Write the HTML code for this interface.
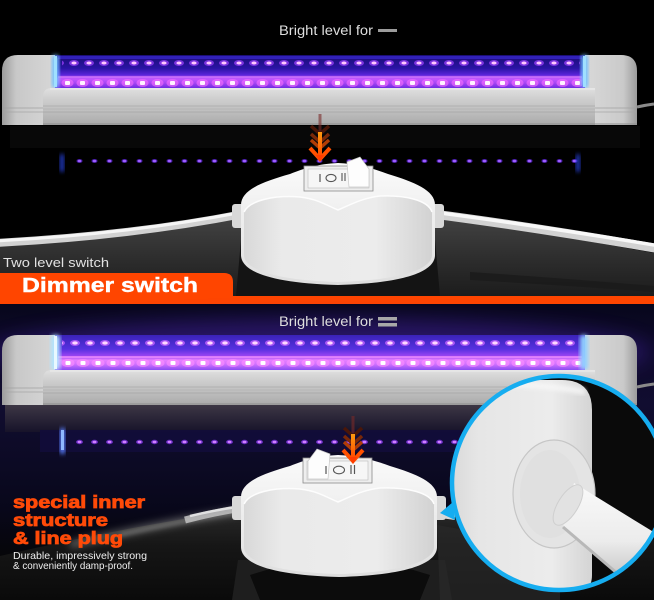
<!DOCTYPE html>
<html>
<head>
<meta charset="utf-8">
<style>
html,body{margin:0;padding:0;background:#000;width:654px;height:600px;overflow:hidden}
svg{display:block}
text{font-family:"Liberation Sans",Arial,sans-serif}
</style>
</head>
<body>
<svg width="654" height="600" viewBox="0 0 654 600" xmlns="http://www.w3.org/2000/svg">
<defs>
  <linearGradient id="capL" x1="0" y1="0" x2="1" y2="0">
    <stop offset="0" stop-color="#9c9c9c"/><stop offset="0.25" stop-color="#c8c8c8"/><stop offset="1" stop-color="#d8d8d8"/>
  </linearGradient>
  <linearGradient id="capR" x1="0" y1="0" x2="1" y2="0">
    <stop offset="0" stop-color="#dadada"/><stop offset="0.75" stop-color="#cacaca"/><stop offset="1" stop-color="#9c9c9c"/>
  </linearGradient>
  <linearGradient id="alum" x1="0" y1="0" x2="0" y2="1">
    <stop offset="0" stop-color="#e0e0e0"/><stop offset="0.3" stop-color="#cecece"/><stop offset="0.6" stop-color="#c0c0c0"/><stop offset="1" stop-color="#aaaaaa"/>
  </linearGradient>
  <linearGradient id="tubeT" x1="0" y1="0" x2="0" y2="1">
    <stop offset="0" stop-color="#1a0d74"/><stop offset="0.4" stop-color="#2a13a4"/><stop offset="0.6" stop-color="#5a24d8"/>
    <stop offset="0.72" stop-color="#c458ff"/><stop offset="0.84" stop-color="#a846f4"/><stop offset="1" stop-color="#6e2ce0"/>
  </linearGradient>
  <linearGradient id="tubeB" x1="0" y1="0" x2="0" y2="1">
    <stop offset="0" stop-color="#3a22b8"/><stop offset="0.4" stop-color="#5630e0"/><stop offset="0.6" stop-color="#9a44f2"/>
    <stop offset="0.72" stop-color="#e680ff"/><stop offset="0.84" stop-color="#d070ff"/><stop offset="1" stop-color="#8a4cf0"/>
  </linearGradient>
  <linearGradient id="swG" x1="0" y1="0" x2="0" y2="1">
    <stop offset="0" stop-color="#fbfbfb"/><stop offset="1" stop-color="#dedede"/>
  </linearGradient>
  <linearGradient id="faceG" x1="0" y1="0" x2="1" y2="0">
    <stop offset="0" stop-color="#d8d8d8"/><stop offset="0.2" stop-color="#eaeaea"/><stop offset="0.7" stop-color="#ececec"/><stop offset="1" stop-color="#d2d2d2"/>
  </linearGradient>
  <linearGradient id="surfT" x1="0" y1="0" x2="0" y2="1">
    <stop offset="0" stop-color="#424242"/><stop offset="0.5" stop-color="#2e2e2e"/><stop offset="1" stop-color="#1c1c1c"/>
  </linearGradient>
  <linearGradient id="surfB" x1="0" y1="0" x2="0" y2="1">
    <stop offset="0" stop-color="#2a2a2a"/><stop offset="0.4" stop-color="#161616"/><stop offset="1" stop-color="#0a0a0a"/>
  </linearGradient>
  <linearGradient id="bgB" x1="0" y1="0" x2="0" y2="1">
    <stop offset="0" stop-color="#07061a"/><stop offset="0.15" stop-color="#0d0a2a"/><stop offset="0.35" stop-color="#110d30"/>
    <stop offset="0.55" stop-color="#0c0a24"/><stop offset="0.7" stop-color="#08071a"/><stop offset="0.85" stop-color="#060609"/><stop offset="1" stop-color="#050505"/>
  </linearGradient>
  <linearGradient id="reflB" x1="0" y1="0" x2="0" y2="1">
    <stop offset="0" stop-color="#3e3846"/><stop offset="1" stop-color="#17132a"/>
  </linearGradient>
  <linearGradient id="arrG" x1="0" y1="0" x2="0" y2="1">
    <stop offset="0" stop-color="#ff9a10"/><stop offset="1" stop-color="#ff4a00"/>
  </linearGradient>
  <linearGradient id="bodyZ" x1="0" y1="0" x2="1" y2="0">
    <stop offset="0" stop-color="#cfcfcf"/><stop offset="0.3" stop-color="#e6e6e6"/><stop offset="0.75" stop-color="#ececec"/><stop offset="1" stop-color="#d4d4d4"/>
  </linearGradient>
  <linearGradient id="cabZ" x1="0" y1="0" x2="0" y2="1">
    <stop offset="0" stop-color="#fafafa"/><stop offset="0.6" stop-color="#ececec"/><stop offset="1" stop-color="#c4c4c4"/>
  </linearGradient>
  <filter id="b2" x="-20%" y="-50%" width="140%" height="200%"><feGaussianBlur stdDeviation="2"/></filter>
  <filter id="b4" x="-20%" y="-100%" width="140%" height="300%"><feGaussianBlur stdDeviation="4"/></filter>
  <filter id="b5" x="-20%" y="-50%" width="140%" height="200%"><feGaussianBlur stdDeviation="5"/></filter>
  <filter id="b10" x="-20%" y="-100%" width="140%" height="300%"><feGaussianBlur stdDeviation="10"/></filter>

  <pattern id="pTt" x="66.5" y="57" width="15" height="12" patternUnits="userSpaceOnUse">
    <ellipse cx="7.5" cy="6" rx="5" ry="3" fill="#a040ff" opacity="0.7"/>
    <ellipse cx="7.5" cy="6" rx="2.6" ry="1.5" fill="#ffc8ff"/>
  </pattern>
  <pattern id="pTb" x="60" y="78" width="15" height="10" patternUnits="userSpaceOnUse">
    <ellipse cx="7.5" cy="5" rx="6" ry="4" fill="#ff70ff" opacity="0.55"/>
    <rect x="5" y="3" width="5" height="4" rx="1" fill="#fff2ff"/>
  </pattern>
  <pattern id="pBt" x="67.5" y="337" width="15" height="12" patternUnits="userSpaceOnUse">
    <ellipse cx="7.5" cy="6" rx="5" ry="3" fill="#c060ff" opacity="0.8"/>
    <ellipse cx="7.5" cy="6" rx="2.8" ry="1.6" fill="#ffd8ff"/>
  </pattern>
  <pattern id="pBb" x="60.5" y="358" width="15" height="10" patternUnits="userSpaceOnUse">
    <ellipse cx="7.5" cy="5" rx="6.5" ry="4" fill="#ff90ff" opacity="0.6"/>
    <rect x="5" y="3" width="5" height="4" rx="1" fill="#ffffff"/>
  </pattern>
  <pattern id="pR" x="72" y="156" width="15" height="10" patternUnits="userSpaceOnUse">
    <ellipse cx="7.5" cy="5" rx="3" ry="2" fill="#5a24d0" opacity="0.8"/>
    <ellipse cx="7.5" cy="5" rx="1.8" ry="1.1" fill="#a060ff"/>
  </pattern>
  <pattern id="pR2" x="72" y="437" width="15" height="10" patternUnits="userSpaceOnUse">
    <ellipse cx="7.5" cy="5" rx="3.5" ry="2.2" fill="#7a30e0" opacity="0.8"/>
    <ellipse cx="7.5" cy="5" rx="2" ry="1.2" fill="#d080ff"/>
  </pattern>
  <clipPath id="cz"><circle cx="559" cy="483" r="107"/></clipPath>
</defs>

<!-- ================= TOP SECTION ================= -->
<rect x="0" y="0" width="654" height="300" fill="#000"/>
<path d="M0,246 Q130,239 241,218 L241,296 L0,296 Z" fill="url(#surfT)"/>
<path d="M435,218 Q540,232 654,253 L654,296 L435,296 Z" fill="url(#surfT)"/>
<path d="M241,240 L435,240 L440,296 L236,296 Z" fill="#141414"/>
<path d="M470,272 Q560,278 654,286 L654,292 Q560,285 470,280 Z" fill="#1a1a1a" opacity="0.8"/>

<rect x="10" y="126" width="630" height="22" fill="#080808"/>
<rect x="68" y="156" width="512" height="10" fill="url(#pR)"/>
<rect x="60" y="154" width="4" height="18" rx="2" fill="#2c4cff" opacity="0.8" filter="url(#b2)"/>
<rect x="576" y="154" width="4" height="18" rx="2" fill="#2c4cff" opacity="0.8" filter="url(#b2)"/>

<!-- top lamp -->
<path d="M2,125 V71 Q2,55 18,55 H58 V125 Z" fill="url(#capL)"/>
<line x1="3" y1="108" x2="45" y2="108" stroke="#a0a0a0" stroke-width="0.8"/>
<line x1="3" y1="112" x2="45" y2="112" stroke="#a6a6a6" stroke-width="0.8"/>
<path d="M582,55 H621 Q637,55 637,71 V125 H582 Z" fill="url(#capR)"/>
<line x1="595" y1="108" x2="636" y2="108" stroke="#a0a0a0" stroke-width="0.8"/>
<line x1="595" y1="112" x2="636" y2="112" stroke="#a6a6a6" stroke-width="0.8"/>
<rect x="55" y="55" width="530" height="33" fill="url(#tubeT)"/>
<rect x="58" y="56" width="524" height="3" fill="#3a2ad0" opacity="0.7"/>
<rect x="62" y="57" width="518" height="12" fill="url(#pTt)"/>
<rect x="58" y="76" width="524" height="2" fill="#e888ff" opacity="0.55"/>
<rect x="60" y="78" width="522" height="10" fill="url(#pTb)"/>
<rect x="52" y="55" width="7" height="33" rx="3" fill="#70c0ff" filter="url(#b2)"/>
<rect x="54" y="56" width="3" height="31" fill="#a0e0ff"/>
<rect x="581" y="55" width="7" height="33" rx="3" fill="#70c0ff" filter="url(#b2)"/>
<rect x="583" y="56" width="3" height="31" fill="#a0e0ff"/>
<path d="M43,125 V97 Q43,88 52,88 H595 V125 Z" fill="url(#alum)"/>
<line x1="50" y1="89" x2="595" y2="89" stroke="#eaeaea" stroke-width="1.2"/>
<line x1="43" y1="106" x2="595" y2="106" stroke="#a8a8a8" stroke-width="0.8"/>
<line x1="43" y1="109" x2="595" y2="109" stroke="#b2b2b2" stroke-width="0.8"/>
<line x1="43" y1="112" x2="595" y2="112" stroke="#a4a4a4" stroke-width="0.8"/>
<line x1="43" y1="124" x2="637" y2="124" stroke="#8e8e8e" stroke-width="1"/>
<path d="M637,107 Q646,105 654,104" stroke="#8a8a8a" stroke-width="3" fill="none"/>

<!-- top cables -->
<path d="M-5,243 Q130,236 243,214" stroke="#d2d2d2" stroke-width="8" fill="none"/>
<path d="M-5,241 Q130,234 243,212" stroke="#f6f6f6" stroke-width="3" fill="none"/>
<path d="M433,214 Q540,228 660,249" stroke="#d2d2d2" stroke-width="9" fill="none"/>
<path d="M433,212 Q540,226 660,246" stroke="#f8f8f8" stroke-width="3.5" fill="none"/>

<!-- top switch -->
<g>
  <rect x="232" y="204" width="12" height="24" rx="3" fill="#d8d8d8"/>
  <rect x="432" y="204" width="12" height="24" rx="3" fill="#d8d8d8"/>
  <path d="M241,205 C241,190 262,182 290,174 C305,168 318,164 338,163 C358,164 372,168 388,174 C414,182 435,190 435,205 L435,255 C435,270 410,283 338,285 C266,283 241,270 241,255 Z" fill="url(#swG)"/>
  <path d="M244,212 C250,200 275,195 300,197 C318,199 328,206 338,210 C350,205 362,198 380,196 C405,195 428,200 432,212 L432,255 C432,268 405,280 338,282 C270,280 244,268 244,255 Z" fill="url(#faceG)"/>
  <path d="M244,212 C250,200 275,195 300,197 C318,199 328,206 338,210 C350,205 362,198 380,196 C405,195 428,200 432,212" stroke="#fdfdfd" stroke-width="1.5" fill="none"/>
  <rect x="304" y="166" width="69" height="25" fill="#eeeeee" stroke="#8a8a8a" stroke-width="0.8"/>
  <rect x="308" y="169" width="61" height="19" fill="#f6f6f6" stroke="#bdbdbd" stroke-width="0.6"/>
  <path d="M347,162 L360,157 L369,169 L369,187 L349,187 Z" fill="#fdfdfd" stroke="#c8c8c8" stroke-width="0.7"/>
  <line x1="320" y1="174" x2="320" y2="182" stroke="#555" stroke-width="1.2"/>
  <ellipse cx="331" cy="178" rx="5" ry="3.6" fill="none" stroke="#555" stroke-width="1.1"/>
  <line x1="342" y1="173" x2="342" y2="181" stroke="#555" stroke-width="1.1"/>
  <line x1="345" y1="173" x2="345" y2="181" stroke="#555" stroke-width="1.1"/>
</g>

<!-- top arrow -->
<g transform="translate(320,0)">
  <rect x="-1.5" y="114" width="3" height="18" fill="#7a2a28" opacity="0.6"/>
  <path d="M-9,126 L0,134 L9,126" stroke="#4a1608" stroke-width="3.5" fill="none"/>
  <path d="M-9,134 L0,142 L9,134" stroke="#7a2808" stroke-width="3.5" fill="none"/>
  <path d="M-9,140 L0,148 L9,140" stroke="#b03c06" stroke-width="3.5" fill="none"/>
  <rect x="-2" y="132" width="4" height="24" fill="url(#arrG)"/>
  <path d="M-10,148 L0,159 L10,148" stroke="#ff5000" stroke-width="4" fill="none"/>
  <path d="M-4,155 L0,162 L4,155 Z" fill="#ff3c00"/>
</g>

<!-- top texts -->
<text x="279" y="35" font-size="13.5" fill="#dedede" textLength="94" lengthAdjust="spacingAndGlyphs">Bright level for</text>
<rect x="378" y="29" width="19" height="3" fill="#9c9c9c"/>
<text x="3" y="267" font-size="13" fill="#e2e2e2" textLength="106" lengthAdjust="spacingAndGlyphs">Two level switch</text>
<path d="M0,273 H224 Q233,273 233,282 V300 H0 Z" fill="#ff4500"/>
<rect x="0" y="296" width="654" height="4" fill="#ff4500"/>
<text x="22" y="292" font-size="20" font-weight="bold" fill="#ffffff" stroke="#ffffff" stroke-width="0.4" textLength="176" lengthAdjust="spacingAndGlyphs">Dimmer switch</text>

<!-- ================= BOTTOM SECTION ================= -->
<rect x="0" y="300" width="654" height="300" fill="url(#bgB)"/>
<rect x="0" y="300" width="654" height="4" fill="#ff4500"/>
<ellipse cx="320" cy="352" rx="330" ry="34" fill="#5a2ad0" opacity="0.35" filter="url(#b10)"/>

<!-- lamp reflection -->
<rect x="5" y="404" width="632" height="28" fill="url(#reflB)"/>
<rect x="40" y="430" width="560" height="22" fill="#120c3a" opacity="0.9"/>
<rect x="68" y="437" width="512" height="10" fill="url(#pR2)"/>
<rect x="60" y="428" width="5" height="26" rx="2" fill="#5a80ff" filter="url(#b2)"/>
<rect x="61" y="430" width="3" height="20" fill="#90b8ff"/>

<!-- bottom lamp -->
<path d="M2,405 V351 Q2,335 18,335 H58 V405 Z" fill="url(#capL)"/>
<line x1="3" y1="388" x2="45" y2="388" stroke="#a0a0a0" stroke-width="0.8"/>
<line x1="3" y1="392" x2="45" y2="392" stroke="#a6a6a6" stroke-width="0.8"/>
<path d="M582,335 H621 Q637,335 637,351 V405 H582 Z" fill="url(#capR)"/>
<rect x="55" y="335" width="530" height="35" fill="url(#tubeB)"/>
<rect x="62" y="337" width="518" height="12" fill="url(#pBt)"/>
<rect x="58" y="356" width="524" height="2" fill="#ff9cff" opacity="0.6"/>
<rect x="60" y="358" width="522" height="10" fill="url(#pBb)"/>
<rect x="51" y="335" width="9" height="35" rx="3" fill="#b0e4ff" filter="url(#b2)"/>
<rect x="54" y="336" width="3" height="33" fill="#e8f8ff"/>
<rect x="580" y="335" width="8" height="35" rx="3" fill="#90d0ff" filter="url(#b2)"/>
<path d="M43,405 V379 Q43,370 52,370 H595 V405 Z" fill="url(#alum)"/>
<line x1="50" y1="371" x2="595" y2="371" stroke="#eaeaea" stroke-width="1.2"/>
<line x1="43" y1="387" x2="595" y2="387" stroke="#a8a8a8" stroke-width="0.8"/>
<line x1="43" y1="390" x2="595" y2="390" stroke="#b2b2b2" stroke-width="0.8"/>
<line x1="43" y1="393" x2="595" y2="393" stroke="#a4a4a4" stroke-width="0.8"/>
<line x1="43" y1="404" x2="637" y2="404" stroke="#8e8e8e" stroke-width="1"/>
<path d="M637,387 Q646,385 654,384" stroke="#8a8a8a" stroke-width="3" fill="none"/>

<!-- lower surface -->
<path d="M0,556 Q120,528 240,510 H440 Q550,515 654,540 V600 H0 Z" fill="url(#surfB)"/>
<path d="M70,545 Q160,523 240,511" stroke="#8a8a8a" stroke-width="7" fill="none" opacity="0.6" filter="url(#b4)"/>
<path d="M120,535 Q180,521 240,512" stroke="#bdbdbd" stroke-width="2" fill="none" opacity="0.5" filter="url(#b2)"/>
<path d="M238,560 L445,560 L452,600 L232,600 Z" fill="#1e1e1e"/>
<path d="M250,575 L300,560 L380,560 L430,575 L420,600 L260,600 Z" fill="#0c0c0c"/>
<path d="M437,525 Q500,535 560,560 L560,600 L440,600 Z" fill="#2a2a2a" opacity="0.7"/>

<!-- bottom cables -->
<path d="M243,508 Q215,512 185,520" stroke="#bdbdbd" stroke-width="7" fill="none" opacity="0.9"/>
<path d="M243,506 Q215,510 190,516" stroke="#eeeeee" stroke-width="2.5" fill="none" opacity="0.8"/>
<path d="M435,513 L455,516" stroke="#d8d8d8" stroke-width="8" fill="none"/>

<!-- bottom switch -->
<g transform="translate(0,292)">
  <rect x="232" y="204" width="12" height="24" rx="3" fill="#d8d8d8"/>
  <rect x="434" y="204" width="12" height="24" rx="3" fill="#d8d8d8"/>
  <path d="M241,205 C241,190 262,182 290,174 C305,168 318,164 338,163 C358,164 374,168 390,174 C416,182 437,190 437,205 L437,255 C437,270 412,283 339,285 C266,283 241,270 241,255 Z" fill="url(#swG)"/>
  <path d="M244,212 C250,200 275,195 300,197 C318,199 328,206 338,210 C350,205 362,198 380,196 C405,195 430,200 434,212 L434,255 C434,268 407,280 339,282 C270,280 244,268 244,255 Z" fill="url(#faceG)"/>
  <path d="M244,212 C250,200 275,195 300,197 C318,199 328,206 338,210 C350,205 362,198 380,196 C405,195 430,200 434,212" stroke="#fdfdfd" stroke-width="1.5" fill="none"/>
  <rect x="303" y="166" width="69" height="25" fill="#eeeeee" stroke="#8a8a8a" stroke-width="0.8"/>
  <rect x="307" y="169" width="61" height="19" fill="#f6f6f6" stroke="#bdbdbd" stroke-width="0.6"/>
  <path d="M330,162 L317,157 L308,169 L308,187 L328,187 Z" fill="#fdfdfd" stroke="#c8c8c8" stroke-width="0.7"/>
  <line x1="326" y1="174" x2="326" y2="182" stroke="#555" stroke-width="1.2"/>
  <ellipse cx="339" cy="178" rx="5.5" ry="3.8" fill="none" stroke="#555" stroke-width="1.1"/>
  <line x1="351" y1="173" x2="351" y2="182" stroke="#555" stroke-width="1.2"/>
  <line x1="354.5" y1="173" x2="354.5" y2="182" stroke="#555" stroke-width="1.2"/>
</g>

<!-- bottom arrow -->
<g transform="translate(353,302)">
  <rect x="-1.5" y="114" width="3" height="18" fill="#7a2a28" opacity="0.6"/>
  <path d="M-9,126 L0,134 L9,126" stroke="#4a1608" stroke-width="3.5" fill="none"/>
  <path d="M-9,134 L0,142 L9,134" stroke="#7a2808" stroke-width="3.5" fill="none"/>
  <path d="M-9,140 L0,148 L9,140" stroke="#b03c06" stroke-width="3.5" fill="none"/>
  <rect x="-2" y="132" width="4" height="24" fill="url(#arrG)"/>
  <path d="M-10,148 L0,159 L10,148" stroke="#ff5000" stroke-width="4" fill="none"/>
  <path d="M-4,155 L0,162 L4,155 Z" fill="#ff3c00"/>
</g>

<!-- zoom circle -->
<g clip-path="url(#cz)">
  <rect x="440" y="370" width="230" height="230" fill="#0a0a0a"/>
  <path d="M440,520 Q520,530 600,600 H440 Z" fill="#262626"/>
  <path d="M430,600 V410 Q430,380 460,380 H562 Q592,380 592,410 V575 Q592,592 575,595 L430,600 Z" fill="url(#bodyZ)"/>
  <path d="M450,388 Q520,380 585,392" stroke="#f8f8f8" stroke-width="6" fill="none" opacity="0.8" filter="url(#b2)"/>
  <ellipse cx="554" cy="494" rx="41" ry="54" fill="#e4e4e4" stroke="#c6c6c6" stroke-width="1.2"/>
  <ellipse cx="550" cy="494" rx="30" ry="44" fill="#dedede" opacity="0.6"/>
  <path d="M574,483 L660,536 L625,580 L563,527 Z" fill="url(#cabZ)"/>
  <path d="M563,527 L625,580" stroke="#b8b8b8" stroke-width="3"/>
  <ellipse cx="568" cy="505" rx="10" ry="23" transform="rotate(32 568 505)" fill="#e2e2e2" stroke="#cfcfcf" stroke-width="1"/>
</g>
<circle cx="559" cy="483" r="107" fill="none" stroke="#16adf0" stroke-width="4.5"/>
<path d="M453,502 L440,513 L455,520 Z" fill="#16adf0"/>

<!-- bottom texts -->
<text x="279" y="326" font-size="13.5" fill="#dedede" textLength="94" lengthAdjust="spacingAndGlyphs">Bright level for</text>
<rect x="378" y="317" width="19" height="3.5" fill="#a8a8a8"/>
<rect x="378" y="323" width="19" height="3.5" fill="#a8a8a8"/>

<g font-size="17.5" font-weight="bold" fill="#ff4a08" stroke="#ff4a08" stroke-width="0.8">
<text x="13" y="508" textLength="132" lengthAdjust="spacingAndGlyphs">special inner</text>
<text x="13" y="526" textLength="95" lengthAdjust="spacingAndGlyphs">structure</text>
<text x="13" y="544" textLength="110" lengthAdjust="spacingAndGlyphs">&amp; line plug</text>
</g>
<text x="13" y="559" font-size="10.5" fill="#f0f0f0" textLength="134" lengthAdjust="spacingAndGlyphs">Durable, impressively strong</text>
<text x="13" y="569" font-size="10.5" fill="#f0f0f0" textLength="120" lengthAdjust="spacingAndGlyphs">&amp; conveniently damp-proof.</text>
</svg>
</body>
</html>
